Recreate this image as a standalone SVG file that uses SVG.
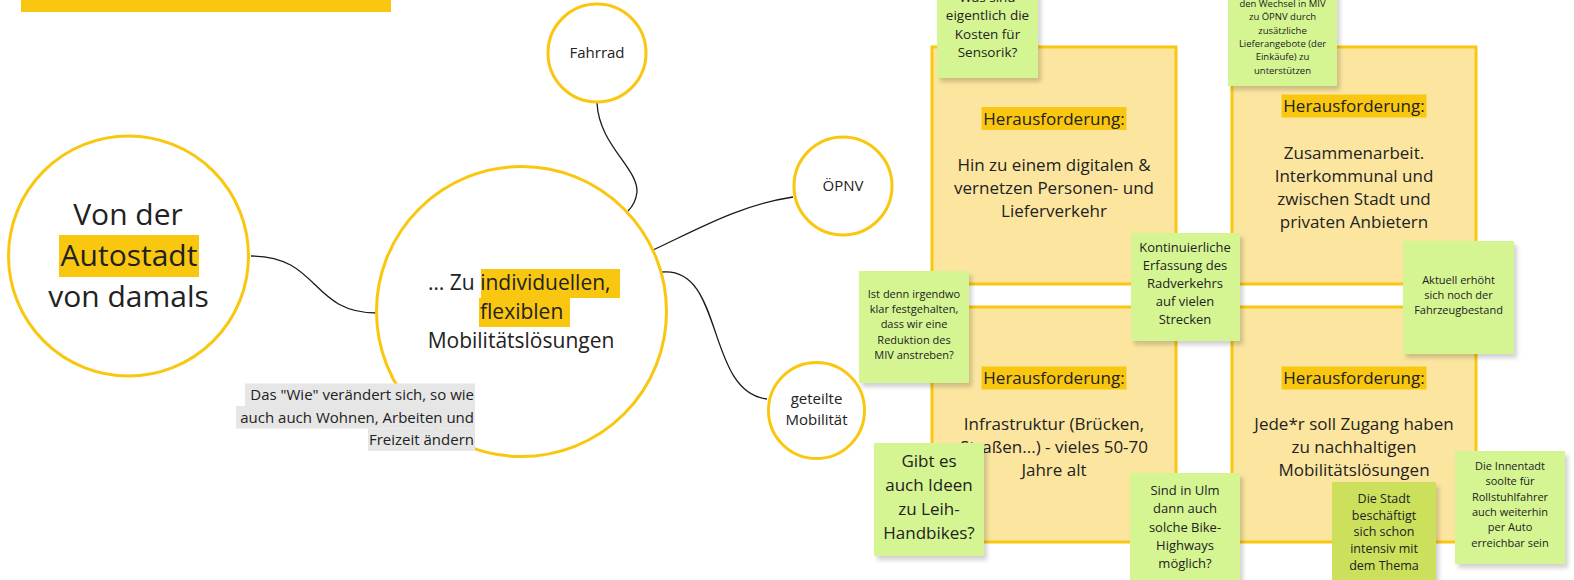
<svg xmlns="http://www.w3.org/2000/svg" width="1574" height="580" viewBox="0 0 1574 580">
<defs>
<style>
text{font-family:"Open Sans","Liberation Sans",sans-serif;fill:#222;}
.c{text-anchor:middle;}
.r{text-anchor:end;}
.ring{fill:#fff;stroke:#FAC710;stroke-width:3;}
.box{fill:#FCE69F;stroke:#FAC710;stroke-width:3;}
.hl{fill:#FAC710;}
.note{fill:#D5F592;filter:url(#sh);}
.note2{fill:#CCE05C;filter:url(#sh);}
.gr{fill:#E6E6E6;}
.link{fill:none;stroke:#1a1a1a;stroke-width:1.3;}
.f17{font-size:17px;}
</style>
<filter id="sh" x="-10%" y="-10%" width="130%" height="130%">
<feDropShadow dx="3" dy="4" stdDeviation="2" flood-color="#000" flood-opacity="0.18"/>
</filter>
</defs>
<rect width="1574" height="580" fill="#fff"/>
<rect id="titlebar" x="21" y="0" width="370" height="12" class="hl"/>

<g id="connectors">
<path class="link" d="M251,256 C320,256 310,313 377,313"/>
<path class="link" d="M597,103 C599,145 638,168 637,192 C636,201 632,207 628,211"/>
<path class="link" d="M653,250 C700,228 740,205 793,197"/>
<path class="link" d="M662,272 C725,266 705,392 767,399"/>
</g>

<g id="node-autostadt">
<circle class="ring" cx="128.5" cy="256" r="120"/>
<rect class="hl" x="59" y="235" width="140" height="42"/>
<text class="c" x="128" y="225" font-size="30">Von der</text>
<text class="c" x="129" y="266" font-size="30">Autostadt</text>
<text class="c" x="128.5" y="307" font-size="30">von damals</text>
</g>

<g id="node-mobil">
<circle class="ring" cx="521.5" cy="311.5" r="145"/>
<rect class="hl" x="481" y="269" width="139" height="29"/>
<rect class="hl" x="479" y="298" width="91" height="29"/>
<text x="428" y="290" font-size="21">… Zu individuellen,</text>
<text x="480" y="319" font-size="21">flexiblen</text>
<text class="c" x="521" y="348" font-size="21">Mobilitätslösungen</text>
</g>

<g id="note-wie">
<rect class="gr" x="245" y="383.5" width="230" height="22.5"/>
<rect class="gr" x="236" y="406" width="239" height="22.5"/>
<rect class="gr" x="368" y="428.5" width="107" height="22.5"/>
<text class="r" x="474" y="400" font-size="15">Das "Wie" verändert sich, so wie</text>
<text class="r" x="474" y="422.5" font-size="15">auch auch Wohnen, Arbeiten und</text>
<text class="r" x="474" y="445" font-size="15">Freizeit ändern</text>
</g>

<g id="node-fahrrad">
<circle class="ring" cx="597" cy="53" r="49"/>
<text class="c" x="597" y="58" font-size="15">Fahrrad</text>
</g>
<g id="node-oepnv">
<circle class="ring" cx="843" cy="186" r="49"/>
<text class="c" x="843" y="191" font-size="15">ÖPNV</text>
</g>
<g id="node-geteilt">
<circle class="ring" cx="816.5" cy="410.5" r="48"/>
<text class="c" x="816.5" y="404" font-size="15">geteilte</text>
<text class="c" x="816.5" y="425" font-size="15">Mobilität</text>
</g>

<g id="box-tl">
<rect class="box" x="932" y="47" width="244" height="237"/>
<rect class="hl" x="981.5" y="107" width="145" height="23"/>
<text class="c f17" x="1054" y="124.5">Herausforderung:</text>
<text class="c f17" x="1054" y="171">Hin zu einem digitalen &amp;</text>
<text class="c f17" x="1054" y="194">vernetzen Personen- und</text>
<text class="c f17" x="1054" y="217">Lieferverkehr</text>
</g>
<g id="box-tr">
<rect class="box" x="1232" y="47" width="244" height="237"/>
<rect class="hl" x="1281.5" y="94.5" width="145" height="23"/>
<text class="c f17" x="1354" y="112">Herausforderung:</text>
<text class="c f17" x="1354" y="159">Zusammenarbeit.</text>
<text class="c f17" x="1354" y="182">Interkommunal und</text>
<text class="c f17" x="1354" y="205">zwischen Stadt und</text>
<text class="c f17" x="1354" y="228">privaten Anbietern</text>
</g>
<g id="box-bl">
<rect class="box" x="932" y="307" width="244" height="235"/>
<rect class="hl" x="981.5" y="366.5" width="145" height="23"/>
<text class="c f17" x="1054" y="384">Herausforderung:</text>
<text class="c f17" x="1054" y="430">Infrastruktur (Brücken,</text>
<text class="c f17" x="1054" y="453">Straßen...) - vieles 50-70</text>
<text class="c f17" x="1054" y="476">Jahre alt</text>
</g>
<g id="box-br">
<rect class="box" x="1232" y="307" width="244" height="235"/>
<rect class="hl" x="1281.5" y="366.5" width="145" height="23"/>
<text class="c f17" x="1354" y="384">Herausforderung:</text>
<text class="c f17" x="1354" y="430">Jede*r soll Zugang haben</text>
<text class="c f17" x="1354" y="453">zu nachhaltigen</text>
<text class="c f17" x="1354" y="476">Mobilitätslösungen</text>
</g>

<g id="sticky-sensorik">
<rect class="note" x="937" y="-22" width="101" height="100"/>
<text class="c" x="987.5" y="2" font-size="13.5">Was sind</text>
<text class="c" x="987.5" y="20" font-size="13.5">eigentlich die</text>
<text class="c" x="987.5" y="38.5" font-size="13.5">Kosten für</text>
<text class="c" x="987.5" y="57" font-size="13.5">Sensorik?</text>
</g>
<g id="sticky-wechsel">
<rect class="note" x="1228" y="-28" width="109" height="114"/>
<text class="c" x="1282.5" y="7" font-size="9.5">den Wechsel in MIV</text>
<text class="c" x="1282.5" y="20.3" font-size="9.5">zu ÖPNV durch</text>
<text class="c" x="1282.5" y="33.6" font-size="9.5">zusätzliche</text>
<text class="c" x="1282.5" y="46.9" font-size="9.5">Lieferangebote (der</text>
<text class="c" x="1282.5" y="60.2" font-size="9.5">Einkäufe) zu</text>
<text class="c" x="1282.5" y="73.5" font-size="9.5">unterstützen</text>
</g>
<g id="sticky-erfassung">
<rect class="note" x="1131" y="233" width="109" height="108"/>
<text class="c" x="1185" y="252" font-size="13">Kontinuierliche</text>
<text class="c" x="1185" y="270" font-size="13">Erfassung des</text>
<text class="c" x="1185" y="288" font-size="13">Radverkehrs</text>
<text class="c" x="1185" y="306" font-size="13">auf vielen</text>
<text class="c" x="1185" y="324" font-size="13">Strecken</text>
</g>
<g id="sticky-reduktion">
<rect class="note" x="859" y="271" width="110" height="112"/>
<text class="c" x="914" y="298" font-size="11">Ist denn irgendwo</text>
<text class="c" x="914" y="313.2" font-size="11">klar festgehalten,</text>
<text class="c" x="914" y="328.4" font-size="11">dass wir eine</text>
<text class="c" x="914" y="343.6" font-size="11">Reduktion des</text>
<text class="c" x="914" y="358.8" font-size="11">MIV anstreben?</text>
</g>
<g id="sticky-bestand">
<rect class="note" x="1403" y="241" width="111" height="113"/>
<text class="c" x="1458.5" y="284" font-size="11">Aktuell erhöht</text>
<text class="c" x="1458.5" y="299" font-size="11">sich noch der</text>
<text class="c" x="1458.5" y="314" font-size="11">Fahrzeugbestand</text>
</g>
<g id="sticky-handbikes">
<rect class="note" x="874" y="443" width="110" height="113"/>
<text class="c" x="929" y="467" font-size="17">Gibt es</text>
<text class="c" x="929" y="491" font-size="17">auch Ideen</text>
<text class="c" x="929" y="515" font-size="17">zu Leih-</text>
<text class="c" x="929" y="539" font-size="17">Handbikes?</text>
</g>
<g id="sticky-highways">
<rect class="note" x="1130" y="473" width="110" height="113"/>
<text class="c" x="1185" y="495" font-size="13">Sind in Ulm</text>
<text class="c" x="1185" y="513" font-size="13">dann auch</text>
<text class="c" x="1185" y="531.5" font-size="13">solche Bike-</text>
<text class="c" x="1185" y="549.5" font-size="13">Highways</text>
<text class="c" x="1185" y="567.5" font-size="13">möglich?</text>
</g>
<g id="sticky-thema">
<rect class="note2" x="1332" y="482" width="104" height="113"/>
<text class="c" x="1384" y="503" font-size="12.5">Die Stadt</text>
<text class="c" x="1384" y="519.7" font-size="12.5">beschäftigt</text>
<text class="c" x="1384" y="536.4" font-size="12.5">sich schon</text>
<text class="c" x="1384" y="553.1" font-size="12.5">intensiv mit</text>
<text class="c" x="1384" y="569.8" font-size="12.5">dem Thema</text>
</g>
<g id="sticky-rollstuhl">
<rect class="note" x="1455" y="451" width="110" height="113"/>
<text class="c" x="1510" y="470" font-size="11">Die Innentadt</text>
<text class="c" x="1510" y="485.3" font-size="11">soolte für</text>
<text class="c" x="1510" y="500.6" font-size="11">Rollstuhlfahrer</text>
<text class="c" x="1510" y="515.9" font-size="11">auch weiterhin</text>
<text class="c" x="1510" y="531.2" font-size="11">per Auto</text>
<text class="c" x="1510" y="546.5" font-size="11">erreichbar sein</text>
</g>
</svg>
